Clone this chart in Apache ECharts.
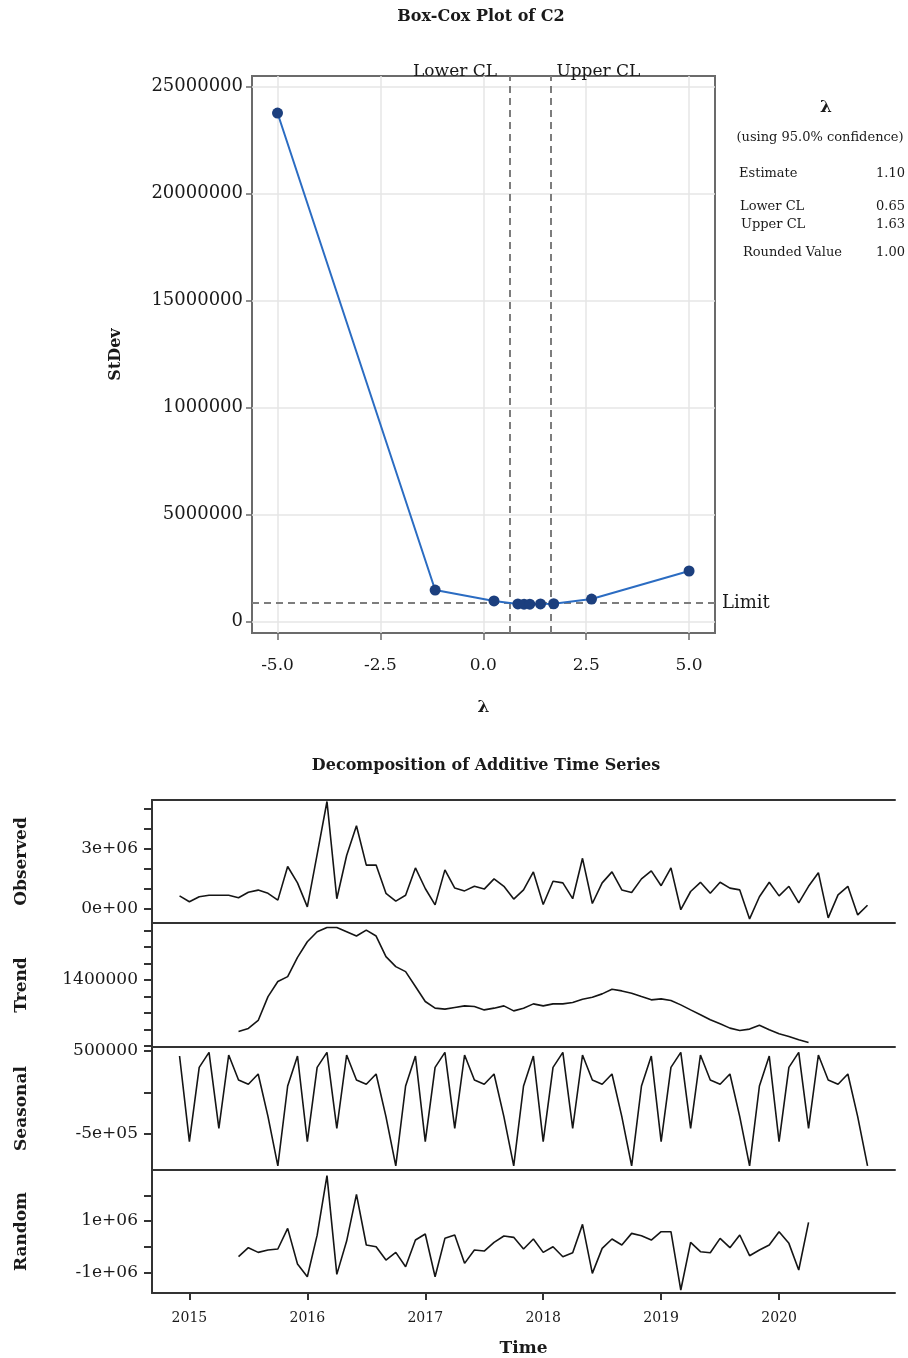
<!DOCTYPE html>
<html><head><meta charset="utf-8">
<script src="https://cdn.jsdelivr.net/npm/echarts@6/dist/echarts.min.js"></script>
<style>html,body{margin:0;padding:0;background:#fff}#c{width:908px;height:1358px}</style>
</head><body><div id="c"></div>
<script>
// ---------- Box-Cox data ----------
const boxLambda = [-5, -1.17, 0.26, 0.84, 0.99, 1.13, 1.39, 1.71, 2.63, 5];
const boxStDev  = [23760000, 1470000, 960000, 820000, 810000, 810000, 820000, 830000, 1050000, 2360000];
const boxLimit = 860000;
const lowerCL = 0.65, upperCL = 1.63;
const boxXTicks = [-5, -2.5, 0, 2.5, 5];
const boxXLabels = ['-5.0', '-2.5', '0.0', '2.5', '5.0'];
const boxYTicks = [0, 5000000, 10000000, 15000000, 20000000, 25000000];
const boxYLabels = ['0', '5000000', '1000000', '15000000', '20000000', '25000000'];
const statNames = ['Estimate', 'Lower CL', 'Upper CL', 'Rounded Value'];
const statValues = ['1.10', '0.65', '1.63', '1.00'];

// ---------- Decomposition data (monthly, starting Dec 2014) ----------
const startYear = 2014, startMonth = 12;
const observed = [0.62e6,0.33e6,0.58e6,0.65e6,0.65e6,0.65e6,0.53e6,0.80e6,0.91e6,0.75e6,0.41e6,
  2.09e6,1.27e6,0.07e6,2.70e6,5.34e6,0.48e6,2.64e6,4.13e6,2.16e6,2.16e6,
  0.75e6,0.36e6,0.65e6,2.02e6,0.99e6,0.17e6,1.92e6,1.01e6,0.87e6,1.10e6,
  0.96e6,1.47e6,1.10e6,0.46e6,0.92e6,1.82e6,0.19e6,1.35e6,1.27e6,0.48e6,
  2.50e6,0.24e6,1.27e6,1.82e6,0.92e6,0.79e6,1.47e6,1.87e6,1.13e6,2.02e6,
  -0.07e6,0.84e6,1.30e6,0.75e6,1.30e6,1.01e6,0.92e6,-0.53e6,0.58e6,1.30e6,
  0.62e6,1.10e6,0.27e6,1.10e6,1.78e6,-0.48e6,0.67e6,1.10e6,-0.33e6,0.15e6];
const trendStart = 6;
const trend = [0.773e6,0.810e6,0.907e6,1.198e6,1.381e6,1.441e6,1.676e6,1.866e6,1.988e6,2.040e6,
  2.040e6,1.988e6,1.935e6,2.008e6,1.935e6,1.684e6,1.563e6,1.502e6,1.320e6,1.138e6,
  1.057e6,1.045e6,1.065e6,1.085e6,1.077e6,1.036e6,1.057e6,1.085e6,1.024e6,1.057e6,
  1.109e6,1.085e6,1.109e6,1.109e6,1.126e6,1.166e6,1.190e6,1.231e6,1.287e6,1.267e6,
  1.239e6,1.198e6,1.158e6,1.170e6,1.150e6,1.097e6,1.036e6,0.976e6,0.915e6,0.866e6,
  0.814e6,0.785e6,0.802e6,0.850e6,0.794e6,0.745e6,0.713e6,0.672e6,0.640e6];
const seasonal = [436000,-592000,300000,480000,-432000,448000,148000,96000,220000,-292000,-884000,76000,
  436000,-592000,300000,480000,-432000,448000,148000,96000,220000,-292000,-884000,76000,
  436000,-592000,300000,480000,-432000,448000,148000,96000,220000,-292000,-884000,76000,
  436000,-592000,300000,480000,-432000,448000,148000,96000,220000,-292000,-884000,76000,
  436000,-592000,300000,480000,-432000,448000,148000,96000,220000,-292000,-884000,76000,
  436000,-592000,300000,480000,-432000,448000,148000,96000,220000,-292000,-884000];
const randomStart = 6;
const random = [-0.390e6,-0.039e6,-0.221e6,-0.130e6,-0.091e6,0.714e6,-0.675e6,-1.169e6,0.45e6,2.766e6,
  -1.078e6,0.22e6,2.039e6,0.065e6,0.0,-0.519e6,-0.221e6,-0.779e6,0.260e6,0.494e6,
  -1.169e6,0.325e6,0.455e6,-0.649e6,-0.130e6,-0.169e6,0.169e6,0.416e6,0.364e6,-0.091e6,
  0.299e6,-0.221e6,0.0,-0.390e6,-0.234e6,0.870e6,-1.039e6,-0.065e6,0.299e6,0.065e6,
  0.519e6,0.429e6,0.260e6,0.584e6,0.584e6,-1.688e6,0.169e6,-0.195e6,-0.234e6,0.325e6,
  -0.039e6,0.455e6,-0.351e6,-0.130e6,0.065e6,0.584e6,0.130e6,-0.909e6,0.948e6];
const yearTicks = [2015, 2016, 2017, 2018, 2019, 2020];
const yearLabels = ['2015', '2016', '2017', '2018', '2019', '2020'];
const obsTicks = [0, 1e6, 2e6, 3e6, 4e6, 5e6];
const obsLabelVals = [0, 3e6], obsLabels = ['0e+00', '3e+06'];
const trendTicks = [6e5, 8e5, 1e6, 1.2e6, 1.4e6, 1.6e6, 1.8e6, 2e6];
const trendLabelVals = [1.4e6], trendLabels = ['1400000'];
const seasTicks = [-5e5, 0, 5e5];
const seasLabelVals = [5e5, -5e5], seasLabels = ['500000', '-5e+05'];
const randTicks = [-1e6, 0, 1e6, 2e6];
const randLabelVals = [1e6, -1e6], randLabels = ['1e+06', '-1e+06'];
const panelNames = ['Observed', 'Trend', 'Seasonal', 'Random'];

// ---------- helpers ----------
const FF = '"DejaVu Serif", serif';
const TXT = '#1a1a1a';
function lookup(vals, labels) {
  return function (v) {
    for (let k = 0; k < vals.length; k++) {
      if (Math.abs(vals[k] - v) <= 1e-6 * Math.max(1, Math.abs(vals[k]))) return labels[k];
    }
    return '';
  };
}
const tOf = i => startYear + (startMonth - 1 + i) / 12;
const pairs = (arr, off) => arr.map((v, k) => [tOf(k + off), v]);

const chart = echarts.init(document.getElementById('c'), null, { renderer: 'canvas' });

// panel geometry
const panels = [
  { top: 800, height: 123, min: -735000, max: 5415000, ticks: obsTicks, lv: obsLabelVals, ll: obsLabels, data: pairs(observed, 0) },
  { top: 923, height: 124, min: 584000, max: 2094000, ticks: trendTicks, lv: trendLabelVals, ll: trendLabels, data: pairs(trend, trendStart) },
  { top: 1047, height: 123, min: -933000, max: 544000, ticks: seasTicks, lv: seasLabelVals, ll: seasLabels, data: pairs(seasonal, 0) },
  { top: 1170, height: 123, min: -1804000, max: 2988000, ticks: randTicks, lv: randLabelVals, ll: randLabels, data: pairs(random, randomStart) }
];
const decLeft = 152, decWidth = 743, tMin = 2014.683, tMax = 2020.983;

const grids = [{ left: 252, top: 76, width: 463, height: 557, show: true, borderColor: '#6b6b6b', borderWidth: 2, backgroundColor: '#fff' }];
const xAxes = [{
  gridIndex: 0, type: 'value', min: -5.62, max: 5.63,
  name: 'λ', nameLocation: 'middle', nameGap: 66,
  nameTextStyle: { fontFamily: FF, fontWeight: 'bold', fontSize: 17, color: TXT },
  axisLine: { show: false, onZero: false },
  axisTick: { show: true, inside: false, length: 7, customValues: boxXTicks, lineStyle: { color: '#6b6b6b', width: 1.5 } },
  axisLabel: { customValues: boxXTicks, formatter: lookup(boxXTicks, boxXLabels), fontFamily: FF, fontSize: 17, color: TXT, margin: 24 },
  splitLine: { show: true, lineStyle: { color: '#e6e6e6', width: 1.5 } }
}];
const yAxes = [{
  gridIndex: 0, type: 'value', min: -537000, max: 25490000,
  name: 'StDev', nameLocation: 'middle', nameGap: 128, nameRotate: 90,
  nameTextStyle: { fontFamily: FF, fontWeight: 'bold', fontSize: 16, color: TXT },
  axisLine: { show: false, onZero: false },
  axisTick: { show: true, inside: false, length: 6, customValues: boxYTicks, lineStyle: { color: '#6b6b6b', width: 1.5 } },
  axisLabel: { customValues: boxYTicks, formatter: lookup(boxYTicks, boxYLabels), fontFamily: FF, fontSize: 18, color: TXT, margin: 9, padding: [8, 0, 0, 0] },
  splitLine: { show: true, lineStyle: { color: '#e6e6e6', width: 1.5 } }
}];
const series = [{
  type: 'line', xAxisIndex: 0, yAxisIndex: 0,
  data: boxLambda.map((l, k) => [l, boxStDev[k]]),
  symbol: 'circle', symbolSize: 11,
  itemStyle: { color: '#1c3f7e' },
  lineStyle: { color: '#2b6cc2', width: 2 },
  z: 5,
  markLine: {
    silent: true, symbol: ['none', 'none'], animation: false,
    lineStyle: { color: '#7d7d7d', width: 2, type: [7, 5] },
    data: [
      { yAxis: boxLimit, label: { show: true, position: 'end', formatter: 'Limit', fontFamily: FF, fontSize: 18, color: TXT, distance: 7 } },
      { xAxis: lowerCL, label: { show: true, position: 'end', formatter: 'Lower CL', fontFamily: FF, fontSize: 17, color: TXT, align: 'right', padding: [0, 13, 0, 0], distance: -4 } },
      { xAxis: upperCL, label: { show: true, position: 'end', formatter: 'Upper CL', fontFamily: FF, fontSize: 17, color: TXT, align: 'left', padding: [0, 0, 0, 6], distance: -4 } }
    ]
  }
}];

panels.forEach((p, k) => {
  const gi = k + 1;
  const last = k === panels.length - 1;
  grids.push({ left: decLeft, top: p.top, width: decWidth, height: p.height, show: false });
  xAxes.push({
    gridIndex: gi, type: 'value', min: tMin, max: tMax, position: 'bottom',
    name: last ? 'Time' : '', nameLocation: 'middle', nameGap: 47,
    nameTextStyle: { fontFamily: FF, fontWeight: 'bold', fontSize: 17, color: TXT },
    axisLine: { show: true, onZero: false, lineStyle: { color: '#333', width: 2 } },
    axisTick: { show: last, inside: false, length: 7, customValues: yearTicks, lineStyle: { color: '#333', width: 2 } },
    axisLabel: { show: last, customValues: yearTicks, formatter: lookup(yearTicks, yearLabels), fontFamily: FF, fontSize: 14, color: TXT, margin: 18 },
    splitLine: { show: false }
  });
  yAxes.push({
    gridIndex: gi, type: 'value', min: p.min, max: p.max,
    name: panelNames[k], nameLocation: 'middle', nameRotate: 90, nameGap: 122,
    nameTextStyle: { fontFamily: FF, fontWeight: 'bold', fontSize: 17, color: TXT },
    axisLine: { show: true, onZero: false, lineStyle: { color: '#333', width: 2 } },
    axisTick: { show: true, inside: false, length: 8, customValues: p.ticks, lineStyle: { color: '#333', width: 2 } },
    axisLabel: { customValues: p.lv, formatter: lookup(p.lv, p.ll), fontFamily: FF, fontSize: 17, color: TXT, margin: 14, padding: [6, 0, 0, 0] },
    splitLine: { show: false }
  });
  series.push({
    type: 'line', xAxisIndex: gi, yAxisIndex: gi, data: p.data,
    showSymbol: false, symbol: 'none',
    lineStyle: { color: '#151515', width: 1.6 }
  });
});
// top border of the Observed panel
xAxes.push({
  gridIndex: 1, type: 'value', min: tMin, max: tMax, position: 'top',
  axisLine: { show: true, onZero: false, lineStyle: { color: '#333', width: 2 } },
  axisTick: { show: false }, axisLabel: { show: false }, splitLine: { show: false }
});

const graphic = [
  { type: 'text', x: 481, y: 17, style: { text: 'Box-Cox Plot of C2', font: 'bold 16px ' + FF, align: 'center', verticalAlign: 'middle', fill: TXT } },
  { type: 'text', x: 486, y: 766, style: { text: 'Decomposition of Additive Time Series', font: 'bold 16px ' + FF, align: 'center', verticalAlign: 'middle', fill: TXT } },
  { type: 'text', x: 826, y: 108, style: { text: 'λ', font: 'bold 17px ' + FF, align: 'center', verticalAlign: 'middle', fill: TXT } },
  { type: 'text', x: 820, y: 138, style: { text: '(using 95.0% confidence)', font: '13px ' + FF, align: 'center', verticalAlign: 'middle', fill: TXT } }
];
const statY = [174, 207, 225, 253];
const statX = [739, 740, 741, 743];
statNames.forEach((n, k) => {
  graphic.push({ type: 'text', x: statX[k], y: statY[k], style: { text: n, font: '13px ' + FF, align: 'left', verticalAlign: 'middle', fill: TXT } });
  graphic.push({ type: 'text', x: 905, y: statY[k], style: { text: statValues[k], font: '13px ' + FF, align: 'right', verticalAlign: 'middle', fill: TXT } });
});

chart.setOption({
  animation: false,
  backgroundColor: '#fff',
  grid: grids, xAxis: xAxes, yAxis: yAxes, series: series, graphic: graphic
});
</script></body></html>
